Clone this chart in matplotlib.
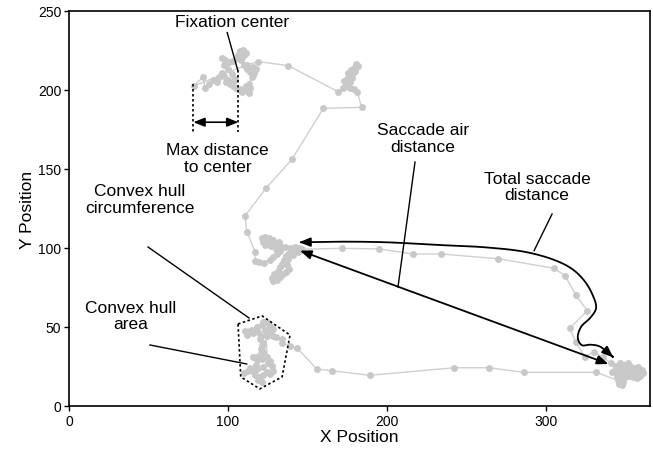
import numpy as np
import matplotlib
matplotlib.use("Agg")
import matplotlib.pyplot as plt
from matplotlib.patches import FancyArrowPatch, Polygon
from matplotlib.path import Path

plt.rcParams['font.family'] = ['Liberation Sans', 'DejaVu Sans']

# ---- gaze trajectory (data units) ----
tl_x = [78.5, 84.5, 85.5, 88, 90.5, 93, 94.5, 96, 97.5, 99, 101, 103, 105, 107.5, 110, 112.5, 114, 111.5, 113,
        115, 116.5, 117.5, 116, 115.5, 114, 112, 110, 108, 106, 107.5, 109.5, 111, 110, 109, 107, 105.5, 103,
        100.5, 98, 96, 97.5, 100, 102.5, 104.5, 103, 100, 109, 111, 113]
tl_y = [202.5, 208.5, 201, 204, 206, 205, 208, 211, 209, 205, 203.5, 202.5, 201.5, 200.5, 200, 199.5, 201, 202.5,
        204, 208, 211, 213.5, 209.5, 214.5, 211.5, 213, 216, 219, 222, 224.5, 225.5, 223.5, 222, 221, 223,
        220.5, 218.5, 217.5, 219, 220.5, 216, 213, 210, 207, 205, 206.5, 198.5, 200.5, 198]
tl_x = tl_x[::-1]
tl_y = tl_y[::-1]

sac1_x = [112, 119, 137.9, 169]
sac1_y = [216, 218, 215.4, 199]

tr_x = [172.5, 174, 173, 175, 176.5, 175.5, 177.5, 179, 180.5, 181.5, 180, 178.5, 178, 176.5, 175, 177, 179.5,
        181.3]
tr_y = [201, 203, 205.5, 207, 209, 211, 212.5, 214, 216.5, 215, 212, 210.5, 207.5, 205, 202.5, 201, 200.5, 199]

sac2_x = [184, 160, 140.3, 123.9, 110.7, 111.8, 117, 117, 119.7, 122.8, 126.4]
sac2_y = [189, 188.4, 156.3, 137.8, 120.4, 110.3, 97.7, 92, 91.3, 90.5, 92.4]

mid_x = [128, 131, 133, 130, 127, 124, 122, 121.5, 123.5, 126, 128.5, 127, 125, 123, 129, 132, 130, 133, 136,
         139, 142, 144.5, 146, 143.5, 140.5, 138, 136.5, 135.5, 134, 137, 138.5, 136.5, 134.5, 132.5, 130.5,
         128.5, 127.5, 129, 131.5, 133, 135, 138, 141, 144, 146.3]
mid_y = [94, 96, 98, 99.5, 101, 102.5, 104, 106, 107, 106.5, 105, 103.5, 105, 102, 102.5, 103.5, 102, 101,
         100.5, 100, 100.5, 100, 99, 98, 97.5, 96.5, 95, 92.5, 90, 89, 87, 85, 83.5, 81.5, 80, 79, 81, 83.5,
         85.5, 88, 91, 93, 95.5, 97.5, 99.2]

sac3_x = [171.5, 195.2, 216.1, 234, 270, 305, 312, 318.7, 326, 315, 318.7, 324.5, 330.4, 335.7]
sac3_y = [99.8, 99.4, 96.2, 96.2, 93.2, 87.2, 82.5, 70.3, 60.3, 49.2, 40.3, 31.2, 34.4, 30.8]

br_x = [341, 344, 346.5, 349, 351.5, 353, 355.5, 358, 360.5, 361, 358.5, 356, 353.5, 351, 348.5, 346, 344.5, 345,
        346, 347.5, 348, 349.5, 352, 355, 357.5, 359, 356.5, 352.5, 349, 346, 343.5, 341.5, 347, 350, 354,
        357, 345.5, 348.5]
br_y = [27, 25.5, 27, 26, 27.5, 25, 24, 24.5, 23, 21, 20, 21.5, 20.5, 21.5, 20, 21, 19, 16.5, 14, 13, 16, 18.5,
        19, 18.5, 17.5, 19, 22.5, 23, 23.5, 23.5, 22.5, 21.5, 24.5, 22, 22, 21, 17.5, 15]

sac4_x = [331.6, 286, 264, 242.1, 189.3, 165.6, 155.8, 143.6]
sac4_y = [21.3, 21.3, 24.2, 24.2, 19.4, 22.2, 23.4, 36.5]

bl_x = [139, 134, 133.8, 130, 128.5, 126.5, 124.3, 126.4, 128, 125, 122, 121.2, 118, 115, 113.8, 110.7, 112, 116,
        119, 121, 120.1, 122, 121.2, 122.2, 120, 118, 115.9, 118.5, 121.5, 124.3, 126.4, 127.5, 128.5, 126.5,
        124.3, 122, 120.1, 121.2, 119, 117, 115.9, 112.8, 110, 114, 118, 122, 125, 123.5, 120.5, 117.5]
bl_y = [38, 40, 42.4, 43.5, 44.5, 46, 44.5, 50.8, 49, 52.5, 53, 51.3, 50, 48, 47.6, 47.6, 45, 46, 46.6, 44, 42.4,
        40, 38.2, 34, 32.5, 31, 30.8, 29, 29.5, 30.8, 28.7, 25.5, 22.3, 20.5, 21.3, 19.5, 18.2, 15, 16.5, 19.5,
        22.3, 22.3, 21, 24, 23.5, 24.5, 27, 48, 36, 26]

gaze_x = tl_x + sac1_x + tr_x + sac2_x + mid_x + sac3_x + br_x + sac4_x + bl_x
gaze_y = tl_y + sac1_y + tr_y + sac2_y + mid_y + sac3_y + br_y + sac4_y + bl_y

# convex hull annotation vertices
hull_x = [106.3, 121.4, 139, 134, 120, 108]
hull_y = [51.9, 57.0, 44.9, 18.4, 10.8, 18.4]

# total saccade distance curve control points
ts_x = [144.7, 170, 200, 230, 262, 287, 305, 316, 323.5, 329, 331.5, 328, 322, 320, 322.5, 328, 333.5, 338.5,
        342.3]
ts_y = [103.6, 104, 103.6, 102.0, 100.4, 97.5, 92.5, 87, 80, 71, 62, 56, 50, 43, 38.5, 38.8, 37.8, 34.2, 30.8]

xticks = [0, 100, 200, 300]
yticks = [0, 50, 100, 150, 200, 250]


def centripetal_cr(xs, ys, n=24, alpha=0.5):
    P = np.column_stack([xs, ys]).astype(float)
    P = np.vstack([2 * P[0] - P[1], P, 2 * P[-1] - P[-2]])
    out = []
    for i in range(1, len(P) - 2):
        p0, p1, p2, p3 = P[i - 1], P[i], P[i + 1], P[i + 2]
        t0 = 0.0
        t1 = t0 + np.linalg.norm(p1 - p0) ** alpha
        t2 = t1 + np.linalg.norm(p2 - p1) ** alpha
        t3 = t2 + np.linalg.norm(p3 - p2) ** alpha
        for t in np.linspace(t1, t2, n, endpoint=False):
            a1 = (t1 - t) / (t1 - t0) * p0 + (t - t0) / (t1 - t0) * p1
            a2 = (t2 - t) / (t2 - t1) * p1 + (t - t1) / (t2 - t1) * p2
            a3 = (t3 - t) / (t3 - t2) * p2 + (t - t2) / (t3 - t2) * p3
            b1 = (t2 - t) / (t2 - t0) * a1 + (t - t0) / (t2 - t0) * a2
            b2 = (t3 - t) / (t3 - t1) * a2 + (t - t1) / (t3 - t1) * a3
            out.append((t2 - t) / (t2 - t1) * b1 + (t - t1) / (t2 - t1) * b2)
    out.append(P[-2])
    return np.array(out)


fig = plt.figure(figsize=(6.53, 4.52), dpi=100)
ax = fig.add_axes([0.1057, 0.0996, 0.8897, 0.8739])

ax.plot(gaze_x, gaze_y, '-', color='#cfcfcf', lw=1.0, zorder=1)
ax.plot(gaze_x, gaze_y, 'o', color='#c8c8c8', ms=5.0, mec='none', zorder=2)

ax.set_xlim(0, 365.4)
ax.set_ylim(0, 250)
ax.set_xticks(xticks)
ax.set_yticks(yticks)
ax.tick_params(direction='out', length=3.5, width=1.0, labelsize=10, colors='black', pad=2)
for s in ax.spines.values():
    s.set_linewidth(1.2)
ax.set_xlabel('X Position', fontsize=12.5, labelpad=1)
ax.set_ylabel('Y Position', fontsize=12.5, labelpad=2)

k = 'black'
afs = 12.5
head = '<|-|>,head_length=0.45,head_width=0.18'

# convex hull
ax.add_patch(Polygon(np.column_stack([hull_x, hull_y]), closed=True, fill=False,
                     ls=(0, (1.5, 1.5)), lw=1.2, ec=k, zorder=4))

# Fixation center
ax.text(102.5, 243.5, 'Fixation center', ha='center', va='center', fontsize=afs)
ax.plot([99.5, 106.2], [236.3, 212.2], color=k, lw=1.0, zorder=5)

# Max distance to center
ax.plot([78.2, 78.2], [203.8, 173.4], color=k, ls=(0, (1.5, 1.5)), lw=1.2, zorder=5)
ax.plot([106.5, 106.5], [212.5, 173.4], color=k, ls=(0, (1.5, 1.5)), lw=1.2, zorder=5)
ax.annotate('', xy=(106.5, 179.6), xytext=(78.2, 179.6),
            arrowprops=dict(arrowstyle=head, color=k, lw=1.2, shrinkA=0, shrinkB=0,
                            mutation_scale=15), zorder=5)
ax.text(93.5, 156.8, 'Max distance\nto center', ha='center', va='center', fontsize=afs, linespacing=1.15)

# Saccade air distance
ax.text(222.6, 169.8, 'Saccade air\ndistance', ha='center', va='center', fontsize=afs, linespacing=1.15)
ax.plot([217.6, 206.9], [154.4, 75.3], color=k, lw=1.0, zorder=5)
ax.annotate('', xy=(339.2, 26.6), xytext=(145.3, 98.3),
            arrowprops=dict(arrowstyle=head, color=k, lw=1.3, shrinkA=0, shrinkB=0,
                            mutation_scale=15), zorder=5)

# Total saccade distance
ax.text(294.3, 138.9, 'Total saccade\ndistance', ha='center', va='center', fontsize=afs, linespacing=1.15)
ax.plot([303.8, 292.5], [121.5, 98.3], color=k, lw=1.0, zorder=5)
curve = centripetal_cr(ts_x, ts_y)
ax.add_patch(FancyArrowPatch(path=Path(curve), arrowstyle=head, color=k, lw=1.3,
                             mutation_scale=15, zorder=5))

# Convex hull circumference
ax.text(44.5, 131.0, 'Convex hull\ncircumference', ha='center', va='center', fontsize=afs, linespacing=1.15)
ax.plot([49.7, 113.2], [100.6, 55.7], color=k, lw=1.0, zorder=5)

# Convex hull area
ax.text(39.0, 57.3, 'Convex hull\narea', ha='center', va='center', fontsize=afs, linespacing=1.15)
ax.plot([50.9, 111.7], [38.6, 26.6], color=k, lw=1.0, zorder=5)

fig.savefig('out.png', dpi=100)
